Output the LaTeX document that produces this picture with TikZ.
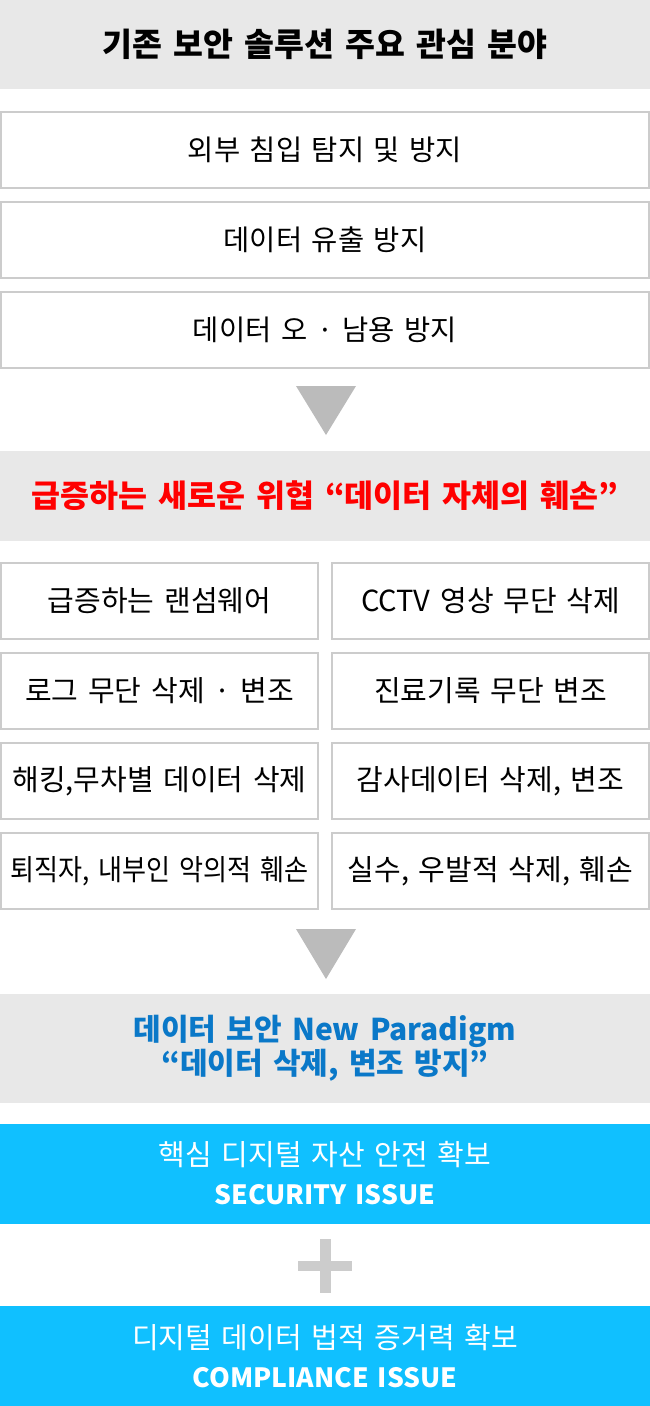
\documentclass[tikz,border=0pt]{standalone}
\usepackage{fontspec}
\setmainfont[WordSpace=1.5]{Noto Sans CJK KR}
\definecolor{bandgray}{HTML}{E8E8E8}
\definecolor{boxline}{HTML}{CCCCCC}
\definecolor{arrowgray}{HTML}{BBBBBB}
\definecolor{plusgray}{HTML}{CCCCCC}
\definecolor{alertred}{HTML}{FF0000}
\definecolor{paradigmblue}{HTML}{0A78C8}
\definecolor{issueblue}{HTML}{10C0FF}
\newcommand{\issuetagfont}{\fontsize{26.5}{39}\selectfont\bfseries}
\tikzset{
  band/.style={fill=bandgray, inner sep=0pt, minimum width=650pt, align=center},
  itembox/.style={draw=boxline, line width=2pt, fill=white, minimum width=648pt, minimum height=76pt, inner sep=0pt,
    font=\fontsize{28.5}{32}\selectfont},
  gridbox/.style={draw=boxline, line width=2pt, fill=white, minimum width=317pt, minimum height=76pt, inner sep=0pt,
    font=\fontsize{29}{32}\selectfont},
  issuebox/.style={fill=issueblue, minimum width=650pt, minimum height=100pt, inner sep=0pt, align=center,
    text=white, font=\fontsize{29}{39}\selectfont},
  downtri/.style={fill=arrowgray}
}
\begin{document}
\begin{tikzpicture}[x=1pt,y=-1pt]
\useasboundingbox (0,0) rectangle (650,1406);
% header 1
\node[band, minimum height=89pt, font=\fontsize{32.5}{36}\selectfont\bfseries] (h1) at (325,44.5) {기존 보안 솔루션 주요 관심 분야};
\node[itembox] (b1) at (325,150) {외부 침입 탐지 및 방지};
\node[itembox] (b2) at (325,240) {데이터 유출 방지};
\node[itembox] (b3) at (325,330) {데이터 오 · 남용 방지};
\fill[downtri] (296,386) -- (356,386) -- (326,435) -- cycle;
% header 2
\node[band, minimum height=90pt, text=alertred, font=\fontsize{31.5}{36}\selectfont\bfseries] (h2) at (325,496) {급증하는 새로운 위협 “데이터 자체의 훼손”};
% grid
\node[gridbox] (g11) at (159.5,601) {급증하는 랜섬웨어};
\node[gridbox] (g12) at (490.5,601) {CCTV 영상 무단 삭제};
\node[gridbox] (g21) at (159.5,691) {로그 무단 삭제 · 변조};
\node[gridbox] (g22) at (490.5,691) {진료기록 무단 변조};
\node[gridbox] (g31) at (159.5,781) {해킹,무차별 데이터 삭제};
\node[gridbox] (g32) at (490.5,781) {감사데이터 삭제, 변조};
\node[gridbox] (g41) at (159.5,871) {\scalebox{0.9}[1]{퇴직자, 내부인 악의적 훼손}};
\node[gridbox] (g42) at (490.5,871) {실수, 우발적 삭제, 훼손};
\fill[downtri] (296,929) -- (356,929) -- (326,979) -- cycle;
% header 3
\node[band, minimum height=109pt, text=paradigmblue, font=\fontsize{30}{34}\selectfont\bfseries] (h3) at (325,1048.5) {데이터 보안 New Paradigm\\“데이터 삭제, 변조 방지”};
% issue boxes
\node[issuebox] (i1) at (325,1173.5) {핵심 디지털 자산 안전 확보\\{\issuetagfont SECURITY ISSUE}};
\fill[plusgray] (320,1239) rectangle (331,1293);
\fill[plusgray] (298,1261) rectangle (352,1271);
\node[issuebox] (i2) at (325,1356) {디지털 데이터 법적 증거력 확보\\{\issuetagfont COMPLIANCE ISSUE}};
\end{tikzpicture}
\end{document}
